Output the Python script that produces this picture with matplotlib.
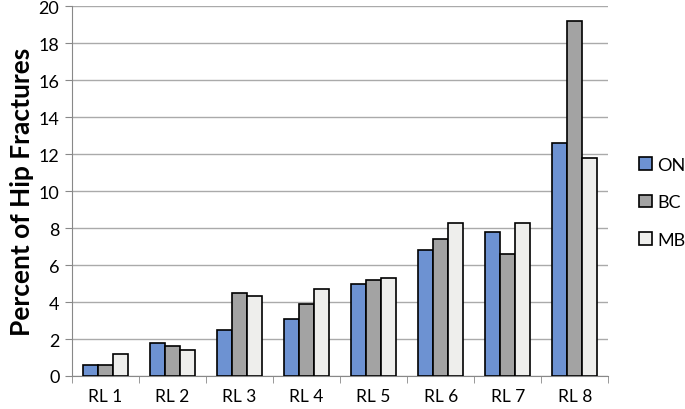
import numpy as np
import matplotlib.pyplot as plt

categories = ['RL 1', 'RL 2', 'RL 3', 'RL 4', 'RL 5', 'RL 6', 'RL 7', 'RL 8']
on_vals = [0.6, 1.8, 2.5, 3.1, 5.0, 6.8, 7.8, 12.6]
bc_vals = [0.6, 1.6, 4.5, 3.9, 5.2, 7.4, 6.6, 19.2]
mb_vals = [1.2, 1.4, 4.3, 4.7, 5.3, 8.3, 8.3, 11.8]
series = ['ON', 'BC', 'MB']
colors = ['#6d92d2', '#a3a3a3', '#eeeeec']

plt.rcParams['font.family'] = ['Lato', 'DejaVu Sans']

fig = plt.figure(figsize=(6.85, 4.10), dpi=100)
ax = fig.add_axes([0.105, 0.0805, 0.783, 0.902])

x = np.arange(len(categories))
w = 0.225
for i, (vals, c, lab) in enumerate(zip([on_vals, bc_vals, mb_vals], colors, series)):
    ax.bar(x + (i - 1) * w, vals, w, color=c, edgecolor='black', linewidth=1.2,
           label=lab, zorder=3)

ax.set_xlim(-0.5, len(categories) - 0.5)
ax.set_ylim(0, 20)
ax.set_yticks(range(0, 21, 2))
ax.set_xticks(x)
ax.set_xticklabels(categories, fontsize=12.5)
ax.set_xticks(np.arange(-0.5, len(categories), 1), minor=True)
ax.tick_params(axis='x', which='major', length=0, pad=9)
ax.tick_params(axis='x', which='minor', length=5, color='#888888')
ax.tick_params(axis='y', length=5, color='#888888', labelsize=13, pad=4)
ax.yaxis.grid(True, color='#aaaaaa', linewidth=1, zorder=0)
for s in ['top', 'right']:
    ax.spines[s].set_visible(False)
for s in ['left', 'bottom']:
    ax.spines[s].set_color('#888888')

ax.set_ylabel('Percent of Hip Fractures', fontsize=19, fontweight='bold', labelpad=3)

leg = ax.legend(loc='center left', bbox_to_anchor=(1.058, 0.47), frameon=False,
                borderpad=0, borderaxespad=0,
                fontsize=13, handlelength=0.7, handleheight=0.7, handletextpad=0.3,
                labelspacing=1.2)

fig.savefig('out.png', dpi=100)
